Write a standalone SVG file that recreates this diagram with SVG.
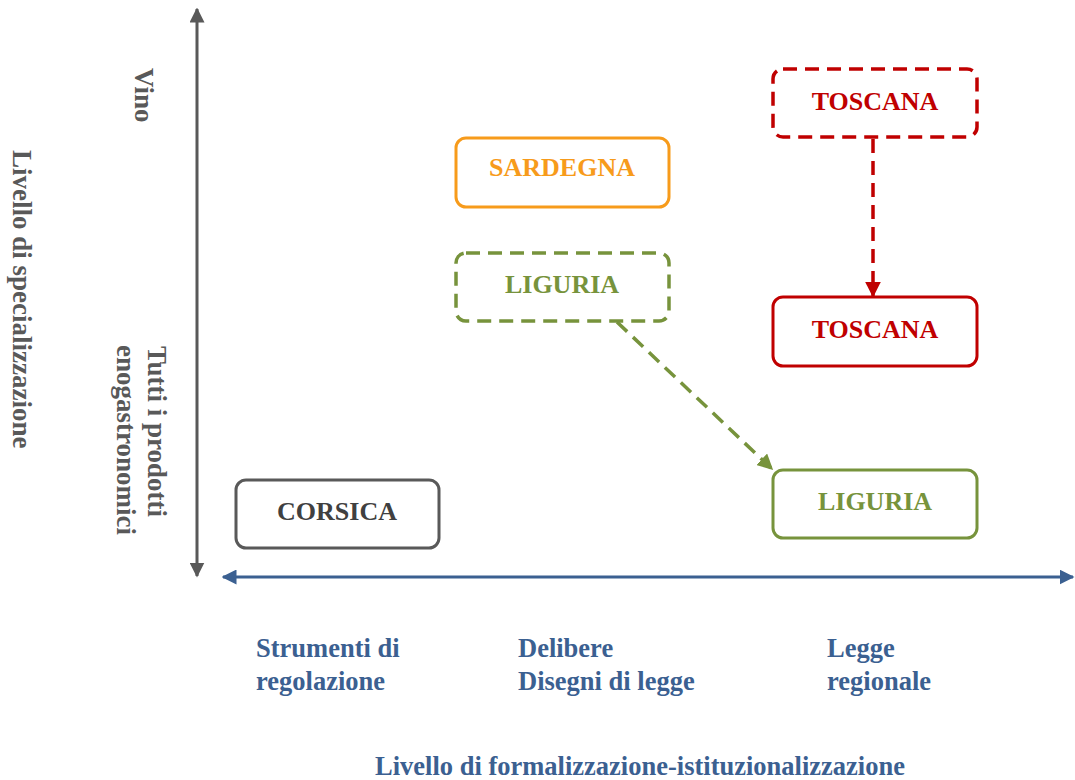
<svg xmlns="http://www.w3.org/2000/svg" width="1075" height="780" viewBox="0 0 1075 780">
<style>
text{font-family:"Liberation Serif","Times New Roman",serif;font-weight:bold;}
.box{fill:#fff;stroke-width:3;}
.dash{stroke-width:3.5;stroke-dasharray:14,8;}
.lbl{font-size:26px;text-anchor:middle;}
.ax{font-size:27px;fill:#595959;}
.bl{font-size:26.5px;fill:#3B6091;}
</style>
<defs>
<marker id="ag" viewBox="0 0 10 10" refX="9" refY="5" markerWidth="5" markerHeight="5" orient="auto-start-reverse" markerUnits="strokeWidth"><path d="M0,0L10,5L0,10z" fill="#595959"/></marker>
<marker id="ab" viewBox="0 0 10 10" refX="9" refY="5" markerWidth="5" markerHeight="5" orient="auto-start-reverse" markerUnits="strokeWidth"><path d="M0,0L10,5L0,10z" fill="#3B6091"/></marker>
<marker id="ar" viewBox="0 0 10 10" refX="9" refY="5" markerWidth="4.5" markerHeight="4.5" orient="auto" markerUnits="strokeWidth"><path d="M0,0L10,5L0,10z" fill="#C00000"/></marker>
<marker id="agr" viewBox="0 0 10 10" refX="9" refY="5" markerWidth="4.5" markerHeight="4.5" orient="auto" markerUnits="strokeWidth"><path d="M0,0L10,5L0,10z" fill="#77933C"/></marker>
</defs>
<g id="connectors">
<line x1="197" y1="9" x2="197" y2="576" stroke="#595959" stroke-width="3" marker-start="url(#ag)" marker-end="url(#ag)"/>
<line x1="223" y1="577" x2="1073" y2="577" stroke="#3B6091" stroke-width="3" marker-start="url(#ab)" marker-end="url(#ab)"/>
<line class="dash" x1="873" y1="139" x2="873" y2="296" stroke="#C00000" marker-end="url(#ar)"/>
<line class="dash" x1="617" y1="322" x2="772" y2="469" stroke="#77933C" marker-end="url(#agr)"/>
</g>
<g id="toscana-vino"><rect class="box dash" x="773" y="69" width="204" height="68" rx="10" stroke="#C00000"/><text class="lbl" x="875" y="110" fill="#C00000">TOSCANA</text></g>
<g id="sardegna"><rect class="box" x="456" y="138" width="213" height="69" rx="10" stroke="#F79B1B"/><text class="lbl" x="562" y="176" fill="#F79B1B">SARDEGNA</text></g>
<g id="liguria-delibere"><rect class="box dash" x="456" y="253" width="213" height="68" rx="10" stroke="#77933C"/><text class="lbl" x="562" y="293" fill="#77933C">LIGURIA</text></g>
<g id="toscana-legge"><rect class="box" x="773" y="297" width="204" height="69" rx="10" stroke="#C00000"/><text class="lbl" x="875" y="338" fill="#C00000">TOSCANA</text></g>
<g id="liguria-legge"><rect class="box" x="773" y="470" width="204" height="68" rx="10" stroke="#77933C"/><text class="lbl" x="875" y="510" fill="#77933C">LIGURIA</text></g>
<g id="corsica"><rect class="box" x="236" y="480" width="203" height="68" rx="10" stroke="#595959"/><text class="lbl" x="337" y="520" fill="#404040">CORSICA</text></g>
<g id="axis-labels">
<text class="ax" transform="translate(135,68) rotate(90)">Vino</text>
<text class="ax" transform="translate(13,150) rotate(90)">Livello di specializzazione</text>
<text class="ax" transform="translate(148,346) rotate(90)">Tutti i prodotti</text>
<text class="ax" transform="translate(117,345) rotate(90)">enogastronomici</text>
<text class="bl" x="256" y="657">Strumenti di</text>
<text class="bl" x="256" y="690">regolazione</text>
<text class="bl" x="518" y="657">Delibere</text>
<text class="bl" x="518" y="690">Disegni di legge</text>
<text class="bl" x="827" y="657">Legge</text>
<text class="bl" x="827" y="690">regionale</text>
<text class="bl" x="640" y="775" text-anchor="middle">Livello di formalizzazione-istituzionalizzazione</text>
</g>
</svg>
